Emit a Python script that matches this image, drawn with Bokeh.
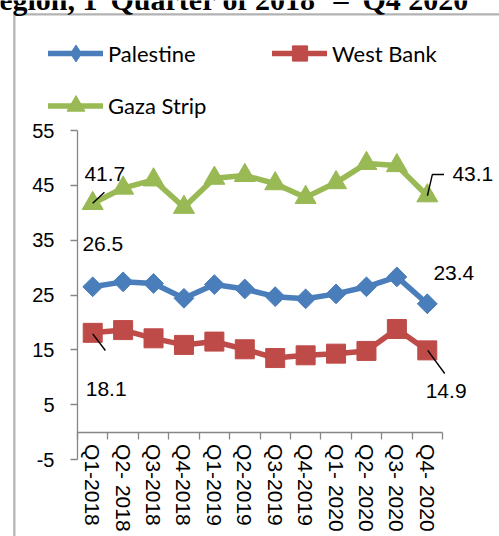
from math import pi
from bokeh.plotting import figure
from bokeh.models import (ColumnDataSource, FixedTicker, Legend, LegendItem,
                          Label, BoxAnnotation, Range1d)
from bokeh.embed import file_html
from bokeh.resources import INLINE

# ---------------- data ----------------
quarters = ["Q1-2018", "Q2- 2018", "Q3-2018", "Q4-2018", "Q1-2019", "Q2-2019",
            "Q3-2019", "Q4-2019", "Q1- 2020", "Q2- 2020", "Q3- 2020", "Q4- 2020"]
palestine = [26.5, 27.4, 27.1, 24.4, 26.9, 26.1, 24.7, 24.3, 25.2, 26.5, 28.3, 23.4]
west_bank = [18.1, 18.6, 17.1, 15.9, 16.5, 15.1, 13.5, 14.0, 14.3, 14.8, 18.8, 14.9]
gaza_strip = [41.7, 44.5, 46.0, 41.0, 46.3, 46.8, 45.3, 42.8, 45.5, 49.0, 48.6, 43.1]
y_ticks = [-5, 5, 15, 25, 35, 45, 55]
series_names = ["Palestine", "West Bank", "Gaza Strip"]
colors = ["#4A7EBB", "#BE4B48", "#98B954"]

# ---------------- layout geometry (pixels) ----------------
W, H = 499, 536
Y_LO, Y_HI = -5, 55
X_LO, X_HI = -0.5, len(quarters) - 0.5
PL, PR, PT, PB = 77, 442, 130, 459   # plot area edges in px
SX = (X_HI - X_LO) / (PR - PL)
SY = (Y_HI - Y_LO) / (PB - PT)
TXT_SHIFT = 9.5  # baseline correction for Label text in px

def px2x(px):
    return X_LO + (px - PL) * SX

def px2y(py):
    return Y_HI - (py - PT) * SY

def dx(px):
    return px * SX

def dy(px):
    return px * SY

p = figure(width=W, height=H,
           x_range=Range1d(px2x(0), px2x(W)), y_range=Range1d(px2y(H), px2y(0)),
           min_border_left=0, min_border_right=0, min_border_top=0, min_border_bottom=0,
           output_backend="svg", toolbar_location=None)
p.xgrid.visible = False
p.ygrid.visible = False
p.outline_line_color = None
p.background_fill_color = "white"
p.border_fill_color = "white"

axis_gray = "#868686"

# y axis (fixed at left edge of plot area)
p.yaxis.fixed_location = X_LO
p.yaxis.bounds = (Y_LO, Y_HI)
p.yaxis.ticker = FixedTicker(ticks=y_ticks)
p.yaxis.major_label_overrides = {t: str(t) for t in y_ticks}
p.yaxis.axis_line_color = axis_gray
p.yaxis.axis_line_width = 1.3
p.yaxis.major_tick_line_color = axis_gray
p.yaxis.major_tick_line_width = 1.3
p.yaxis.major_tick_in = 0
p.yaxis.major_tick_out = 7
p.yaxis.minor_tick_line_color = None
p.yaxis.major_label_text_font = "Liberation Sans"
p.yaxis.major_label_text_font_size = "20px"
p.yaxis.major_label_text_color = "black"
p.yaxis.major_label_standoff = 16

# x axis at y = 0: labels at category centres, tick marks between categories
p.xaxis.fixed_location = 0
p.xaxis.bounds = (X_LO, X_HI)
p.xaxis.ticker = FixedTicker(ticks=list(range(len(quarters))),
                             minor_ticks=[i - 0.5 for i in range(len(quarters) + 1)])
p.xaxis.major_label_overrides = {i: q for i, q in enumerate(quarters)}
p.xaxis.axis_line_color = axis_gray
p.xaxis.axis_line_width = 1.3
p.xaxis.major_tick_line_color = None
p.xaxis.major_tick_in = 0
p.xaxis.major_tick_out = 0
p.xaxis.minor_tick_line_color = axis_gray
p.xaxis.minor_tick_line_width = 1.3
p.xaxis.minor_tick_in = 0
p.xaxis.minor_tick_out = 7
p.xaxis.major_label_orientation = "vertical"
p.xaxis.major_label_standoff = 5
p.xaxis.major_label_text_font = "Liberation Sans"
p.xaxis.major_label_text_font_size = "21px"
p.xaxis.major_label_text_color = "black"

src = ColumnDataSource(dict(x=list(range(len(quarters))), q=quarters,
                            pal=palestine, wb=west_bank, gz=gaza_strip))

renderers = []
for col, c, marker, size, ang in [("pal", colors[0], "square", 14, pi / 4),
                                  ("wb", colors[1], "square", 19, 0),
                                  ("gz", colors[2], "triangle", 21, 0)]:
    ln = p.line(x="x", y=col, source=src, line_color=c, line_width=5.5,
                line_cap="round", line_join="round")
    sc = p.scatter(x="x", y=col, source=src, marker=marker, size=size, angle=ang,
                   fill_color=c, line_color=c, line_width=1)
    renderers.append([ln, sc])

# legend-only diamond key for Palestine (legend does not rotate markers);
# its single point is NaN so nothing is drawn in the plot itself
key_src = ColumnDataSource(dict(x=[0.0], y=[float("nan")]))
pal_key = p.scatter(x="x", y="y", source=key_src, marker="diamond", size=17,
                    fill_color=colors[0], line_color=colors[0])
renderers[0] = [renderers[0][0], pal_key]

# data labels (first and last points)
last = len(quarters) - 1
for xi, val, xo, yo in [(0, gaza_strip[0], -8.3, 20.4),
                        (0, palestine[0], -10.3, 33),
                        (0, west_bank[0], -7, -66),
                        (last, gaza_strip[last], 25.1, 12),
                        (last, palestine[last], 6.1, 21.6),
                        (last, west_bank[last], -1.6, -50)]:
    p.add_layout(Label(x=xi, y=val, text=f"{val}", x_offset=xo, y_offset=yo + TXT_SHIFT,
                       text_align="left", text_baseline="alphabetic",
                       text_font="Liberation Sans", text_font_size="21px",
                       text_color="black"))

# leader lines
leaders_x = [[0, dx(11.7)],
             [0, dx(12.7)],
             [last + dx(0.1), last + dx(5.1), last + dx(16.7)],
             [last + dx(0.4), last + dx(17.4)]]
leaders_y = [[gaza_strip[0] + dy(0.2), gaza_strip[0] + dy(11.2)],
             [west_bank[0] - dy(1), west_bank[0] - dy(17.7)],
             [gaza_strip[last], gaza_strip[last] + dy(21.3), gaza_strip[last] + dy(21.3)],
             [west_bank[last], west_bank[last] - dy(23.1)]]
p.multi_line(xs=leaders_x, ys=leaders_y, line_color="black", line_width=1.4)

# legends (one per item for exact placement); location measured from bottom-left
for (ln, sc), name, left_px, centre_px, gh in [(renderers[0], series_names[0], 48, 53, 42),
                                               (renderers[1], series_names[1], 272, 53, 38),
                                               (renderers[2], series_names[2], 48, 105, 45)]:
    lg = Legend(items=[LegendItem(label=name, renderers=[ln, sc])],
                location=(left_px, H - (centre_px + gh / 2)),
                orientation="horizontal", glyph_width=55, glyph_height=gh,
                label_standoff=5, padding=0, margin=0, spacing=0,
                border_line_color=None, background_fill_alpha=0,
                label_text_font="Lato", label_text_font_size="22px",
                label_text_color="black", label_height=gh)
    p.add_layout(lg, "center")

# outer chart border (left and top edges visible)
p.add_layout(BoxAnnotation(left=px2x(13.85), right=px2x(W + 50),
                           top=px2y(13.85), bottom=px2y(H + 50),
                           fill_alpha=0, line_color="black", line_width=2.2))

# clipped title remnants at top
for txt, px, align in [("Region, 1", 97, "right"),
                       ("Quarter of 2018", 110, "left"),
                       ("–", 333, "left"),
                       ("Q4 2020", 362, "left")]:
    p.add_layout(Label(x=px2x(px), y=px2y(9.5), y_offset=11, text=txt, text_align=align,
                       text_baseline="alphabetic", text_font="Liberation Serif",
                       text_font_style="bold", text_font_size="30px", text_color="black"))

open("out.html", "w").write(file_html(p, INLINE))
